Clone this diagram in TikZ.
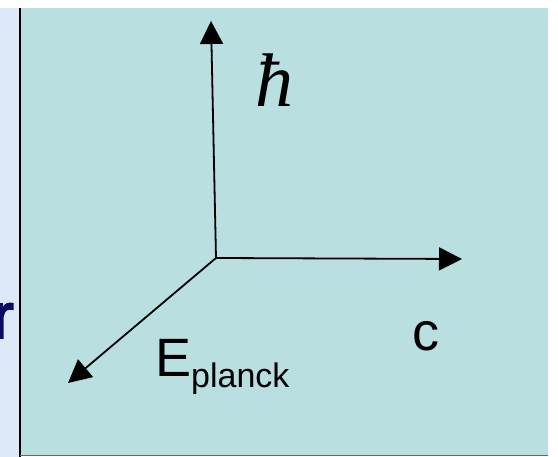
\documentclass[tikz,border=0pt]{standalone}
\usepackage{fontspec}
\setmainfont{Liberation Sans}
\newfontfamily\serifit{Liberation Serif Italic}
\newfontfamily\rfont{Liberation Sans}[FakeBold=3]
\usetikzlibrary{arrows.meta}
\definecolor{panel}{HTML}{BADFE1}
\definecolor{strip}{HTML}{DDE8F8}
\definecolor{navy}{HTML}{0B0B62}
\tikzset{
  axis/.style={line width=1.8pt, -{Triangle[length=23pt,width=23pt]}},
  lbl/.style={inner sep=0pt, font=\fontsize{54}{60}\selectfont},
}
\begin{document}
\begin{tikzpicture}[x=1pt,y=-1pt]
\useasboundingbox (0,0) rectangle (558,457);
\fill[white] (0,0) rectangle (558,457);
\fill[strip] (0,8) rectangle (20,457);
\fill[panel] (20,8) rectangle (548,455);
\draw[line width=1.5pt] (20,8) -- (20,457);
\draw[line width=1.2pt, gray!80!black] (20,455.8) -- (548,455.8);
\node[anchor=base east, inner sep=0pt, text=navy, font=\fontsize{64}{70}\rfont] (r) at (14,338) {r};
\coordinate (O) at (216,258);
\coordinate (up) at (211,21);
\coordinate (right) at (462,259);
\coordinate (diag) at (68,383);
\draw[axis] (O) -- (up);
\draw[axis] (O) -- (right);
\draw[axis] (O) -- (diag);
\node[inner sep=0pt, anchor=base, font=\fontsize{76}{80}\serifit] (hbar) at (274,107) {ħ};
\node[lbl, anchor=base] (c) at (425.5,351) {c};
\node[lbl, anchor=base west] (E) at (155,377) {E\raisebox{-11pt}{\fontsize{34}{40}\selectfont planck}};
\end{tikzpicture}
\end{document}
